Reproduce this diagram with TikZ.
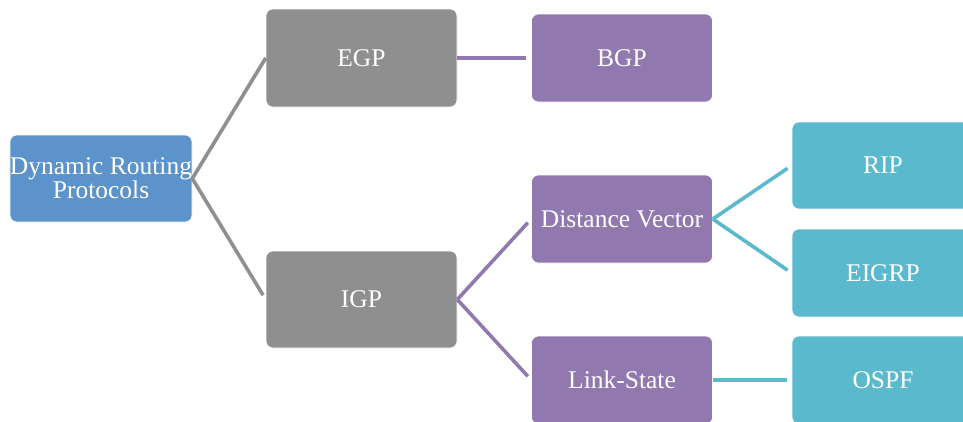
\documentclass[tikz,border=0pt]{standalone}
\usepackage{fontspec}
\setmainfont{Liberation Serif}
\definecolor{cblue}{HTML}{5C93CA}
\definecolor{cgray}{HTML}{8F8F8F}
\definecolor{cpurple}{HTML}{9179B0}
\definecolor{ccyan}{HTML}{5BB9CE}
\tikzset{
  box/.style={rounded corners=7pt, draw=white, line width=0.6pt, text=white, align=center,
    inner sep=0pt, font=\fontsize{25.5}{24}\selectfont},
  bluebox/.style={box, fill=cblue},
  graybox/.style={box, fill=cgray},
  purplebox/.style={box, fill=cpurple},
  cyanbox/.style={box, fill=ccyan},
  conn/.style={line width=3.6pt, shorten >=5pt},
}
\begin{document}
\begin{tikzpicture}[x=1pt,y=-1pt]
\useasboundingbox (0,0) rectangle (963,421);
\node[bluebox, minimum width=182pt, minimum height=87pt] (dyn) at (101,178.5) {Dynamic Routing\\Protocols};
\node[graybox, minimum width=191pt, minimum height=98pt] (egp) at (361.5,58) {EGP};
\node[graybox, minimum width=191pt, minimum height=97pt] (igp) at (361.5,299.5) {IGP};
\node[purplebox, minimum width=181pt, minimum height=88pt] (bgp) at (622,58) {BGP};
\node[purplebox, minimum width=181pt, minimum height=88pt] (dv) at (622,219) {Distance Vector};
\node[purplebox, minimum width=181pt, minimum height=88pt] (ls) at (622,380) {Link-State};
\node[cyanbox, minimum width=182pt, minimum height=87pt] (rip) at (883,165.5) {RIP};
\node[cyanbox, minimum width=182pt, minimum height=88pt] (eigrp) at (883,273) {EIGRP};
\node[cyanbox, minimum width=182pt, minimum height=88pt] (ospf) at (883,380) {OSPF};
\draw[conn, cgray] (egp.west) -- (dyn.east) -- (igp.west);
\draw[conn, cpurple] (egp.east) -- (bgp.west);
\draw[conn, cpurple] (igp.east) -- (dv.west);
\draw[conn, cpurple] (igp.east) -- (ls.west);
\draw[conn, ccyan] (dv.east) -- (rip.west);
\draw[conn, ccyan] (dv.east) -- (eigrp.west);
\draw[conn, ccyan] (ls.east) -- (ospf.west);
\end{tikzpicture}
\end{document}
